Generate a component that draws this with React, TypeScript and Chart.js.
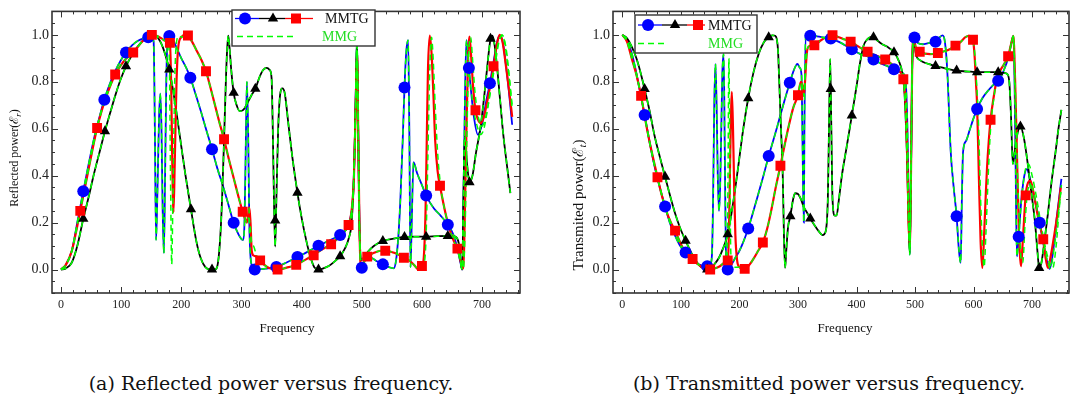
import React, { useEffect, useRef } from "react";
import { Chart, registerables } from "chart.js";

Chart.register(...registerables);

type Pt = [number, number];

const FONT = '"Liberation Serif", "DejaVu Serif", serif';
const FREQ_TICKS = [0, 100, 200, 300, 400, 500, 600, 700];
const POWER_TICKS = [0, 0.2, 0.4, 0.6, 0.8, 1.0];
const LEGEND_MMTG = "MMTG";
const LEGEND_MMG = "MMG";

// ---------- (a) Reflected power ----------
const reflectedBlue: Pt[] = [
  [0, 0], [8, 0.02], [18, 0.08], [27, 0.2], [37, 0.334], [46, 0.45], [55, 0.56], [64, 0.65], [72, 0.724],
  [81, 0.79], [90, 0.845], [99, 0.89], [108, 0.925], [118, 0.955], [128, 0.975], [137, 0.985], [145, 0.99],
  [151, 0.99], [154, 0.97], [156, 0.6], [158, 0.126], [160, 0.3], [163, 0.65], [165, 0.75], [167, 0.6],
  [169, 0.25], [171, 0.07], [173, 0.4], [175, 0.8], [177, 0.97], [180, 0.995], [186, 0.98], [193, 0.94],
  [200, 0.9], [208, 0.86], [215, 0.817], [224, 0.745], [233, 0.67], [242, 0.59], [251, 0.513], [260, 0.43],
  [270, 0.35], [279, 0.27], [287, 0.199], [295, 0.15], [300, 0.13], [303, 0.126], [305, 0.2], [307, 0.5],
  [309, 0.8], [311, 0.6], [313, 0.2], [316, 0.03], [322, 0.0], [340, 0.004], [358, 0.011], [375, 0.03],
  [393, 0.053], [410, 0.076], [428, 0.101], [446, 0.124], [464, 0.147], [474, 0.17], [480, 0.21], [485, 0.3],
  [488, 0.5], [490, 0.75], [492, 0.98], [494, 0.6], [496, 0.2], [499, 0.008], [503, 0.03], [508, 0.05],
  [515, 0.05], [525, 0.035], [535, 0.022], [545, 0.01], [553, 0.005], [557, 0.04], [561, 0.15], [564, 0.29],
  [568, 0.55], [571, 0.776], [574, 0.93], [577, 0.977], [579, 0.6], [581, 0.01], [583, 0.2], [586, 0.458],
  [592, 0.41], [600, 0.36], [607, 0.315], [620, 0.26], [631, 0.23], [643, 0.191], [652, 0.15], [659, 0.09],
  [664, 0.03], [667, 0.0], [669, 0.3], [672, 0.8], [674, 0.977], [678, 0.859], [686, 0.658], [693, 0.575],
  [700, 0.62], [707, 0.72], [713, 0.794], [720, 0.9], [726, 0.98], [730, 0.997], [735, 0.96], [742, 0.82],
  [750, 0.617],
];
const reflectedBlueMMG: Pt[] = [
  [0, 0], [8, 0.02], [18, 0.08], [27, 0.2], [37, 0.334], [46, 0.45], [55, 0.56], [64, 0.65], [72, 0.724],
  [81, 0.79], [90, 0.845], [99, 0.89], [108, 0.925], [118, 0.955], [128, 0.975], [137, 0.985], [145, 0.99],
  [151, 0.99], [154, 0.97], [156, 0.6], [158, 0.126], [160, 0.3], [163, 0.65], [165, 0.75], [167, 0.6],
  [169, 0.25], [171, 0.07], [173, 0.4], [175, 0.8], [177, 0.97], [180, 0.995], [186, 0.98], [193, 0.94],
  [200, 0.9], [208, 0.86], [215, 0.817], [224, 0.745], [233, 0.67], [242, 0.59], [251, 0.513], [260, 0.43],
  [270, 0.35], [279, 0.27], [287, 0.199], [295, 0.15], [300, 0.13], [303, 0.126], [305, 0.2], [307, 0.5],
  [309, 0.8], [311, 0.6], [313, 0.2], [316, 0.03], [322, 0.0], [340, 0.004], [358, 0.011], [375, 0.03],
  [393, 0.053], [410, 0.076], [428, 0.101], [446, 0.124], [464, 0.147], [474, 0.17], [480, 0.21], [485, 0.3],
  [488, 0.5], [490, 0.75], [492, 0.98], [494, 0.6], [496, 0.2], [499, 0.008], [503, 0.03], [508, 0.05],
  [515, 0.05], [525, 0.035], [535, 0.022], [545, 0.01], [553, 0.005], [557, 0.04], [561, 0.15], [564, 0.29],
  [568, 0.55], [571, 0.776], [574, 0.93], [577, 0.977], [579, 0.6], [581, 0.01], [583, 0.2], [586, 0.458],
  [592, 0.41], [600, 0.36], [607, 0.315], [620, 0.26], [631, 0.23], [643, 0.191], [652, 0.15], [659, 0.09],
  [664, 0.03], [667, 0.0], [669, 0.3], [672, 0.8], [674, 0.977], [678, 0.859], [686, 0.68], [693, 0.6],
  [697, 0.575], [703, 0.6], [710, 0.7], [717, 0.82], [724, 0.93], [729, 0.98], [734, 0.997], [740, 0.94],
  [746, 0.8], [750, 0.68],
];
const reflectedBlack: Pt[] = [
  [0, 0], [8, 0.005], [18, 0.03], [27, 0.1], [37, 0.216], [46, 0.31], [55, 0.41], [64, 0.5], [73, 0.589],
  [82, 0.67], [90, 0.74], [99, 0.81], [108, 0.866], [117, 0.91], [126, 0.945], [135, 0.972], [144, 0.99],
  [152, 0.998], [158, 0.995], [163, 0.98], [168, 0.955], [174, 0.91], [180, 0.852], [189, 0.72], [198, 0.56],
  [207, 0.4], [216, 0.257], [225, 0.12], [232, 0.05], [240, 0.01], [248, 0.0], [256, 0.0], [261, 0.03],
  [265, 0.15], [268, 0.32], [271, 0.55], [274, 0.8], [276, 0.93], [278, 0.997], [280, 0.95], [283, 0.85],
  [287, 0.753], [292, 0.7], [297, 0.675], [303, 0.68], [310, 0.71], [317, 0.745], [323, 0.77], [330, 0.82],
  [336, 0.85], [342, 0.859], [347, 0.85], [350, 0.817], [352, 0.6], [354, 0.3], [356, 0.098], [358, 0.3],
  [361, 0.6], [364, 0.74], [368, 0.772], [372, 0.75], [378, 0.62], [385, 0.47], [393, 0.327], [400, 0.22],
  [408, 0.12], [415, 0.05], [421, 0.01], [428, 0.0], [436, 0.005], [445, 0.015], [455, 0.035], [464, 0.057],
  [472, 0.09], [478, 0.13], [483, 0.2], [487, 0.4], [490, 0.75], [492, 0.98], [494, 0.6], [496, 0.2],
  [499, 0.04], [503, 0.05], [510, 0.075], [520, 0.1], [535, 0.122], [553, 0.132], [571, 0.139], [589, 0.14],
  [607, 0.14], [625, 0.142], [643, 0.143], [652, 0.142], [658, 0.135], [662, 0.1], [665, 0.02], [667, 0.0],
  [669, 0.3], [671, 0.57], [675, 0.45], [679, 0.372], [684, 0.4], [690, 0.5], [697, 0.6], [704, 0.75],
  [710, 0.9], [714, 0.983], [717, 0.997], [720, 0.97], [725, 0.86], [730, 0.72], [735, 0.58], [741, 0.45],
  [747, 0.326],
];
const reflectedRed: Pt[] = [
  [0, 0], [8, 0.02], [18, 0.08], [25, 0.16], [32, 0.25], [39, 0.34], [46, 0.43], [53, 0.52], [60, 0.603],
  [68, 0.68], [75, 0.735], [83, 0.79], [90, 0.831], [98, 0.865], [105, 0.89], [113, 0.91], [120, 0.925],
  [128, 0.95], [136, 0.975], [143, 0.99], [151, 1.0], [160, 0.995], [167, 0.985], [173, 0.975], [178, 0.972],
  [181, 0.966], [183, 0.8], [185, 0.45], [187, 0.244], [189, 0.45], [192, 0.8], [195, 0.95], [200, 0.99],
  [206, 1.0], [211, 0.997], [218, 0.97], [226, 0.93], [234, 0.89], [241, 0.845], [248, 0.78], [256, 0.7],
  [263, 0.63], [271, 0.555], [279, 0.47], [287, 0.39], [295, 0.31], [302, 0.246], [306, 0.215], [309, 0.2],
  [311, 0.23], [313, 0.265], [315, 0.2], [317, 0.08], [320, 0.06], [325, 0.055], [331, 0.039], [338, 0.02],
  [345, 0.008], [352, 0.002], [360, 0.0], [368, 0.003], [375, 0.008], [383, 0.013], [391, 0.02], [398, 0.03],
  [405, 0.04], [412, 0.05], [420, 0.061], [427, 0.074], [435, 0.087], [442, 0.097], [449, 0.108], [457, 0.125],
  [465, 0.145], [472, 0.165], [478, 0.19], [483, 0.25], [487, 0.4], [490, 0.7], [492, 0.93], [494, 0.6],
  [496, 0.2], [498, 0.02], [500, 0.0], [505, 0.04], [509, 0.055], [515, 0.065], [524, 0.075], [532, 0.08],
  [539, 0.08], [547, 0.077], [555, 0.07], [563, 0.06], [570, 0.05], [578, 0.04], [585, 0.025], [590, 0.01],
  [594, 0.0], [600, 0.015], [603, 0.05], [606, 0.25], [608, 0.55], [610, 0.85], [613, 0.997], [616, 0.92],
  [619, 0.75], [622, 0.55], [626, 0.42], [630, 0.357], [635, 0.29], [640, 0.23], [645, 0.18], [650, 0.14],
  [655, 0.11], [659, 0.089], [663, 0.05], [667, 0.01], [669, 0.005], [671, 0.2], [674, 0.6], [677, 0.93],
  [679, 0.993], [682, 0.9], [685, 0.78], [689, 0.679], [693, 0.64], [698, 0.624], [703, 0.65], [708, 0.71],
  [714, 0.79], [719, 0.866], [724, 0.95], [729, 1.0], [734, 0.97], [740, 0.86], [745, 0.76], [750, 0.651],
];
const reflectedRedMMG: Pt[] = [
  [0, 0], [8, 0.02], [18, 0.08], [25, 0.16], [32, 0.25], [39, 0.34], [46, 0.43], [53, 0.52], [60, 0.603],
  [68, 0.68], [75, 0.735], [83, 0.79], [90, 0.831], [98, 0.865], [105, 0.89], [113, 0.91], [120, 0.925],
  [128, 0.95], [136, 0.975], [143, 0.99], [151, 1.0], [160, 0.995], [167, 0.985], [173, 0.975], [178, 0.972],
  [180, 0.9], [182, 0.4], [184, 0.022], [186, 0.3], [189, 0.8], [192, 0.97], [196, 0.995], [201, 0.99],
  [206, 1.0], [211, 0.997], [218, 0.97], [226, 0.93], [234, 0.89], [241, 0.845], [248, 0.78], [256, 0.7],
  [263, 0.63], [271, 0.555], [279, 0.47], [287, 0.39], [295, 0.31], [302, 0.246], [306, 0.215], [309, 0.2],
  [311, 0.22], [314, 0.2], [317, 0.11], [320, 0.1], [325, 0.06], [331, 0.039], [338, 0.02],
  [345, 0.008], [352, 0.002], [360, 0.0], [368, 0.003], [375, 0.008], [383, 0.013], [391, 0.02], [398, 0.03],
  [405, 0.04], [412, 0.05], [420, 0.061], [427, 0.074], [435, 0.087], [442, 0.097], [449, 0.108], [457, 0.125],
  [465, 0.145], [472, 0.165], [478, 0.19], [483, 0.25], [487, 0.4], [490, 0.7], [492, 0.93], [494, 0.6],
  [496, 0.2], [498, 0.02], [500, 0.0], [505, 0.04], [509, 0.055], [515, 0.065], [524, 0.075], [532, 0.08],
  [539, 0.08], [547, 0.077], [555, 0.07], [563, 0.06], [570, 0.05], [578, 0.04], [585, 0.025], [590, 0.01],
  [594, 0.0], [600, 0.015], [604, 0.03], [607, 0.15], [610, 0.5], [613, 0.85], [616, 0.99], [619, 0.88],
  [622, 0.7], [626, 0.5], [630, 0.38], [635, 0.29], [640, 0.23], [645, 0.18], [650, 0.14],
  [655, 0.11], [659, 0.089], [663, 0.05], [667, 0.01], [669, 0.005], [672, 0.2], [675, 0.6], [678, 0.93],
  [681, 0.99], [684, 0.9], [688, 0.76], [693, 0.66], [699, 0.61], [704, 0.63], [710, 0.7], [716, 0.79],
  [722, 0.88], [728, 0.97], [733, 1.0], [738, 0.96], [744, 0.84], [750, 0.7],
];
const reflectedBlueMarks: Pt[] = [
  [37, 0.334], [72, 0.724], [108, 0.925], [145, 0.99], [180, 0.995], [215, 0.817], [251, 0.513],
  [287, 0.199], [322, 0.0], [358, 0.011], [393, 0.053], [428, 0.101], [464, 0.147], [500, 0.008],
  [535, 0.022], [571, 0.776], [607, 0.315], [643, 0.191], [678, 0.859], [713, 0.794],
];
const reflectedBlackMarks: Pt[] = [
  [37, 0.216], [73, 0.589], [108, 0.866], [180, 0.852], [216, 0.257], [251, 0.0], [287, 0.753],
  [323, 0.77], [356, 0.209], [393, 0.327], [428, 0.0], [464, 0.057], [535, 0.122], [571, 0.139],
  [607, 0.14], [643, 0.143], [679, 0.372], [714, 0.983],
];
const reflectedRedMarks: Pt[] = [
  [32, 0.25], [60, 0.603], [90, 0.831], [120, 0.925], [151, 1.0], [181, 0.966], [211, 0.997], [241, 0.845],
  [271, 0.555], [302, 0.246], [331, 0.039], [360, 0.0], [391, 0.02], [420, 0.061], [449, 0.108],
  [478, 0.19], [509, 0.055], [539, 0.08], [570, 0.05], [600, 0.015], [630, 0.357], [659, 0.089],
  [689, 0.679], [719, 0.866],
];

// ---------- (b) Transmitted power ----------
const transmittedBlue: Pt[] = [
  [0, 1.0], [8, 0.975], [15, 0.93], [22, 0.86], [30, 0.76], [38, 0.659], [46, 0.55], [55, 0.44], [64, 0.35],
  [73, 0.269], [81, 0.2], [90, 0.145], [99, 0.1], [108, 0.073], [117, 0.045], [126, 0.028], [135, 0.018],
  [145, 0.014], [150, 0.02], [153, 0.06], [155, 0.3], [157, 0.7], [159, 0.876], [161, 0.7], [163, 0.4],
  [165, 0.25], [167, 0.35], [169, 0.6], [171, 0.85], [173, 0.918], [175, 0.5], [177, 0.05], [180, 0.0],
  [186, 0.02], [193, 0.05], [200, 0.08], [207, 0.12], [215, 0.175], [224, 0.25], [232, 0.32], [241, 0.4],
  [250, 0.484], [259, 0.56], [268, 0.64], [277, 0.72], [286, 0.796], [293, 0.85], [299, 0.876], [303, 0.86],
  [306, 0.83], [308, 0.5], [310, 0.2], [311, 0.6], [313, 0.996], [321, 0.996], [330, 0.995], [340, 0.99],
  [356, 0.984], [370, 0.97], [381, 0.955], [392, 0.939], [405, 0.92], [417, 0.91], [429, 0.895], [440, 0.88],
  [452, 0.868], [464, 0.853], [472, 0.845], [480, 0.835], [484, 0.8], [487, 0.6], [489, 0.3], [491, 0.063],
  [493, 0.4], [495, 0.85], [497, 0.996], [499, 0.989], [505, 0.965], [513, 0.96], [523, 0.965], [535, 0.971],
  [542, 0.99], [547, 0.998], [551, 0.97], [555, 0.85], [561, 0.5], [566, 0.35], [571, 0.227], [575, 0.08],
  [578, 0.028], [580, 0.3], [582, 0.5], [587, 0.547], [594, 0.6], [600, 0.645], [606, 0.684], [615, 0.73],
  [624, 0.76], [633, 0.785], [642, 0.804], [651, 0.845], [660, 0.91], [665, 0.97], [668, 0.996], [670, 0.8],
  [672, 0.4], [674, 0.056], [677, 0.14], [681, 0.28], [686, 0.39], [691, 0.428], [697, 0.38], [705, 0.294],
  [713, 0.199], [720, 0.1], [726, 0.03], [730, 0.003], [736, 0.08], [742, 0.22], [750, 0.386],
];
const transmittedBlueMMG: Pt[] = [
  [0, 1.0], [8, 0.975], [15, 0.93], [22, 0.86], [30, 0.76], [38, 0.659], [46, 0.55], [55, 0.44], [64, 0.35],
  [73, 0.269], [81, 0.2], [90, 0.145], [99, 0.1], [108, 0.073], [117, 0.045], [126, 0.028], [135, 0.018],
  [145, 0.014], [150, 0.02], [153, 0.06], [155, 0.3], [157, 0.7], [159, 0.876], [161, 0.7], [163, 0.4],
  [165, 0.25], [167, 0.35], [169, 0.6], [171, 0.85], [173, 0.918], [175, 0.5], [177, 0.05], [180, 0.0],
  [186, 0.02], [193, 0.05], [200, 0.08], [207, 0.12], [215, 0.175], [224, 0.25], [232, 0.32], [241, 0.4],
  [250, 0.484], [259, 0.56], [268, 0.64], [277, 0.72], [286, 0.796], [293, 0.85], [299, 0.876], [303, 0.86],
  [306, 0.83], [308, 0.5], [310, 0.2], [311, 0.6], [313, 0.996], [321, 0.996], [330, 0.995], [340, 0.99],
  [356, 0.984], [370, 0.97], [381, 0.955], [392, 0.939], [405, 0.92], [417, 0.91], [429, 0.895], [440, 0.88],
  [452, 0.868], [464, 0.853], [472, 0.845], [480, 0.835], [484, 0.8], [487, 0.6], [489, 0.3], [491, 0.063],
  [493, 0.4], [495, 0.85], [497, 0.996], [499, 0.989], [505, 0.965], [513, 0.96], [523, 0.965], [535, 0.971],
  [542, 0.99], [547, 0.998], [551, 0.97], [555, 0.85], [561, 0.5], [566, 0.35], [571, 0.227], [575, 0.08],
  [578, 0.028], [580, 0.3], [582, 0.5], [587, 0.547], [594, 0.6], [600, 0.645], [606, 0.684], [615, 0.73],
  [624, 0.76], [633, 0.785], [642, 0.804], [651, 0.845], [660, 0.91], [665, 0.97], [668, 0.996], [670, 0.8],
  [672, 0.4], [674, 0.056], [677, 0.14], [682, 0.3], [688, 0.42], [694, 0.449], [700, 0.4], [708, 0.3],
  [716, 0.18], [724, 0.08], [731, 0.02], [735, 0.005], [741, 0.1], [746, 0.25], [750, 0.36],
];
const transmittedBlack: Pt[] = [
  [0, 1.0], [8, 0.985], [16, 0.95], [24, 0.9], [31, 0.84], [38, 0.769], [47, 0.67], [55, 0.57], [64, 0.48],
  [73, 0.395], [82, 0.31], [90, 0.24], [99, 0.175], [108, 0.123], [117, 0.075], [126, 0.035], [135, 0.01],
  [145, 0.0], [152, 0.008], [158, 0.025], [165, 0.05], [172, 0.09], [180, 0.15], [189, 0.28], [198, 0.44],
  [206, 0.59], [215, 0.73], [224, 0.84], [233, 0.92], [242, 0.97], [250, 0.99], [256, 0.998], [261, 0.996],
  [264, 0.98], [266, 0.93], [268, 0.8], [271, 0.6], [274, 0.4], [276, 0.15], [278, 0.007], [280, 0.08],
  [283, 0.18], [287, 0.227], [291, 0.29], [295, 0.325], [300, 0.322], [305, 0.3], [310, 0.266], [316, 0.24],
  [321, 0.217], [328, 0.19], [335, 0.165], [342, 0.147], [347, 0.16], [351, 0.3], [353, 0.6], [355, 0.897],
  [357, 0.6], [359, 0.3], [363, 0.23], [366, 0.231], [370, 0.3], [375, 0.4], [383, 0.52], [392, 0.656],
  [400, 0.78], [406, 0.88], [412, 0.954], [418, 0.98], [424, 0.99], [429, 0.99], [436, 0.975], [444, 0.96],
  [452, 0.95], [464, 0.926], [472, 0.89], [478, 0.84], [482, 0.75], [486, 0.5], [489, 0.2], [491, 0.07],
  [493, 0.4], [495, 0.85], [497, 0.98], [502, 0.912], [510, 0.89], [518, 0.88], [527, 0.873], [535, 0.867],
  [547, 0.86], [559, 0.853], [571, 0.848], [583, 0.845], [595, 0.843], [606, 0.841], [618, 0.841],
  [630, 0.841], [642, 0.841], [651, 0.838], [657, 0.834], [661, 0.8], [664, 0.65], [667, 0.45], [670, 0.5],
  [675, 0.58], [680, 0.61], [686, 0.56], [692, 0.46], [698, 0.34], [705, 0.2], [709, 0.08], [712, 0.007],
  [716, 0.03], [721, 0.12], [727, 0.238], [733, 0.37], [740, 0.5], [745, 0.6], [750, 0.68],
];
const transmittedRed: Pt[] = [
  [0, 1.0], [8, 0.97], [16, 0.9], [24, 0.83], [32, 0.74], [39, 0.64], [46, 0.55], [53, 0.47], [60, 0.393],
  [68, 0.31], [75, 0.25], [83, 0.2], [90, 0.166], [98, 0.12], [105, 0.085], [113, 0.06], [120, 0.045],
  [128, 0.025], [135, 0.012], [143, 0.004], [150, 0.0], [158, 0.005], [165, 0.012], [172, 0.025],
  [177, 0.035], [180, 0.039], [182, 0.15], [184, 0.45], [186, 0.7], [187, 0.757], [189, 0.6], [191, 0.35],
  [193, 0.15], [196, 0.04], [200, 0.01], [205, 0.004], [209, 0.003], [217, 0.02], [225, 0.05], [232, 0.08],
  [240, 0.115], [248, 0.18], [255, 0.26], [262, 0.35], [270, 0.442], [278, 0.54], [285, 0.62], [292, 0.69],
  [300, 0.743], [305, 0.8], [308, 0.78], [310, 0.74], [312, 0.8], [315, 0.92], [318, 0.95], [328, 0.956],
  [338, 0.975], [348, 0.99], [359, 0.999], [370, 0.99], [380, 0.98], [390, 0.971], [400, 0.955], [410, 0.94],
  [419, 0.928], [430, 0.915], [440, 0.905], [449, 0.895], [460, 0.875], [470, 0.85], [480, 0.811],
  [484, 0.7], [487, 0.45], [489, 0.2], [491, 0.098], [493, 0.4], [495, 0.85], [497, 0.989], [502, 0.94],
  [508, 0.928], [517, 0.92], [526, 0.918], [539, 0.923], [550, 0.93], [560, 0.94], [569, 0.954], [578, 0.97],
  [586, 0.99], [592, 0.996], [596, 0.99], [599, 0.979], [602, 0.9], [604, 0.8], [606, 0.7], [609, 0.4],
  [612, 0.12], [615, 0.007], [618, 0.15], [621, 0.33], [623, 0.435], [626, 0.55], [629, 0.638], [634, 0.73],
  [640, 0.813], [646, 0.85], [652, 0.875], [659, 0.909], [664, 0.96], [668, 0.996], [671, 0.8], [674, 0.5],
  [677, 0.2], [681, 0.014], [684, 0.12], [689, 0.316], [693, 0.37], [697, 0.379], [703, 0.32], [710, 0.224],
  [715, 0.17], [719, 0.129], [723, 0.05], [727, 0.007], [732, 0.06], [738, 0.15], [744, 0.25], [749, 0.35],
];
const transmittedRedMMG: Pt[] = [
  [0, 1.0], [8, 0.97], [16, 0.9], [24, 0.83], [32, 0.74], [39, 0.64], [46, 0.55], [53, 0.47], [60, 0.393],
  [68, 0.31], [75, 0.25], [83, 0.2], [90, 0.166], [98, 0.12], [105, 0.085], [113, 0.06], [120, 0.045],
  [128, 0.025], [135, 0.012], [143, 0.004], [150, 0.0], [158, 0.005], [165, 0.012], [172, 0.025],
  [177, 0.035], [179, 0.05], [180.5, 0.4], [182, 0.9], [183.5, 0.5], [185, 0.1], [187, 0.02], [193, 0.01],
  [200, 0.01], [205, 0.004], [209, 0.003], [217, 0.02], [225, 0.05], [232, 0.08],
  [240, 0.115], [248, 0.18], [255, 0.26], [262, 0.35], [270, 0.442], [278, 0.54], [285, 0.62], [292, 0.69],
  [300, 0.743], [305, 0.8], [308, 0.78], [310, 0.74], [312, 0.8], [315, 0.92], [318, 0.95], [328, 0.956],
  [338, 0.975], [348, 0.99], [359, 0.999], [370, 0.99], [380, 0.98], [390, 0.971], [400, 0.955], [410, 0.94],
  [419, 0.928], [430, 0.915], [440, 0.905], [449, 0.895], [460, 0.875], [470, 0.85], [480, 0.811],
  [484, 0.7], [487, 0.45], [489, 0.2], [491, 0.098], [493, 0.4], [495, 0.85], [497, 0.989], [502, 0.94],
  [508, 0.928], [517, 0.92], [526, 0.918], [539, 0.923], [550, 0.93], [560, 0.94], [569, 0.954], [578, 0.97],
  [586, 0.99], [592, 0.996], [596, 0.99], [599, 0.979], [602, 0.92], [605, 0.8], [608, 0.65], [612, 0.3],
  [615, 0.1], [618, 0.01], [621, 0.15], [625, 0.4], [629, 0.6], [634, 0.72],
  [640, 0.813], [646, 0.85], [652, 0.875], [659, 0.909], [664, 0.96], [668, 0.996], [671, 0.8], [674, 0.5],
  [678, 0.2], [681, 0.05], [684, 0.03], [688, 0.2], [692, 0.33], [698, 0.36], [705, 0.3], [712, 0.2],
  [720, 0.11], [726, 0.04], [731, 0.005], [737, 0.08], [744, 0.22], [749, 0.33],
];
const transmittedBlueMarks: Pt[] = [
  [38, 0.659], [73, 0.269], [108, 0.073], [145, 0.014], [180, 0.0], [215, 0.175], [250, 0.484],
  [286, 0.796], [321, 0.996], [356, 0.984], [392, 0.939], [429, 0.895], [464, 0.853], [499, 0.989],
  [535, 0.971], [571, 0.227], [606, 0.684], [642, 0.804], [677, 0.14], [713, 0.199],
];
const transmittedBlackMarks: Pt[] = [
  [38, 0.769], [73, 0.395], [108, 0.123], [145, 0.0], [180, 0.15], [215, 0.73], [250, 0.99], [287, 0.227],
  [321, 0.217], [356, 0.769], [392, 0.656], [429, 0.99], [464, 0.926], [535, 0.867], [571, 0.848],
  [606, 0.841], [642, 0.841], [680, 0.61], [712, 0.007],
];
const transmittedRedMarks: Pt[] = [
  [32, 0.74], [60, 0.393], [90, 0.166], [120, 0.045], [150, 0.0], [180, 0.039], [209, 0.003], [240, 0.115],
  [270, 0.442], [300, 0.743], [328, 0.956], [359, 0.999], [390, 0.971], [419, 0.928], [449, 0.895],
  [480, 0.811], [508, 0.928], [539, 0.923], [569, 0.954], [599, 0.979], [629, 0.638], [659, 0.909],
  [689, 0.316], [719, 0.129],
];

const BLUE = "#0000ff";
const BLACK = "#000000";
const RED = "#ff0000";
const GREEN = "#00ff00";
const GREEN_TEXT = "#22dd22";
const AXIS = "#333333";

interface LegendGeom {
  box: [number, number, number, number];
  row1: number;
  row2: number;
  blueSeg: [number, number];
  blackSeg: [number, number];
  redSeg: [number, number];
  circleX: number;
  triX: number;
  sqX: number;
  mmtgX: number;
  greenSeg: [number, number];
  mmgX: number;
}

interface Spec {
  left: number;
  width: number;
  height: number;
  axisWidth: number;
  padTop: number;
  padRight: number;
  xMin: number;
  xMax: number;
  blue: Pt[];
  blueMMG: Pt[];
  black: Pt[];
  red: Pt[];
  redMMG: Pt[];
  blueMarks: Pt[];
  blackMarks: Pt[];
  redMarks: Pt[];
  yTitle: string;
  yTitleSub: string;
  yTitleSize: number;
  yTitlePos: [number, number];
  xTitle: string;
  xTitlePos: [number, number];
  legend: LegendGeom;
}

function drawMarker(ctx: CanvasRenderingContext2D, kind: string, x: number, y: number, color: string) {
  ctx.fillStyle = color;
  ctx.beginPath();
  if (kind === "circle") {
    ctx.arc(x, y, 6, 0, Math.PI * 2);
  } else if (kind === "triangle") {
    const r = 6;
    ctx.moveTo(x, y - r);
    ctx.lineTo(x + 0.866 * r, y + 0.5 * r);
    ctx.lineTo(x - 0.866 * r, y + 0.5 * r);
    ctx.closePath();
  } else {
    ctx.rect(x - 5, y - 5, 10, 10);
  }
  ctx.fill();
}

function PowerChart({ spec }: { spec: Spec }) {
  const ref = useRef<HTMLCanvasElement | null>(null);
  useEffect(() => {
    if (!ref.current) return;
    const toXY = (pts: Pt[]) => pts.map(([x, y]) => ({ x, y }));
    const line = (pts: Pt[], color: string, width: number, dash: number[], order: number) => ({
      data: toXY(pts),
      borderColor: color,
      backgroundColor: color,
      borderWidth: width,
      borderDash: dash,
      pointRadius: 0,
      pointHoverRadius: 0,
      fill: false,
      cubicInterpolationMode: "monotone",
      order,
    });
    const marks = (pts: Pt[], color: string, style: string, radius: number, order: number) => ({
      data: toXY(pts),
      showLine: false,
      pointStyle: style,
      pointRadius: radius,
      pointHoverRadius: radius,
      pointBackgroundColor: color,
      pointBorderColor: color,
      pointBorderWidth: 0,
      borderColor: color,
      backgroundColor: color,
      order,
    });
    const datasets = [
      line(spec.blue, BLUE, 1.8, [], 6),
      line(spec.black, BLACK, 1.8, [], 5),
      line(spec.red, RED, 2.2, [], 4),
      line(spec.blueMMG, GREEN, 1.5, [6, 4], 3),
      line(spec.black, GREEN, 1.5, [6, 4], 3),
      line(spec.redMMG, GREEN, 1.5, [6, 4], 3),
      marks(spec.blueMarks, BLUE, "circle", 6, 2),
      marks(spec.blackMarks, BLACK, "triangle", 6, 1),
      marks(spec.redMarks, RED, "rect", 7, 0),
    ];
    const ox = spec.left;
    const decor = {
      id: "decor",
      afterDraw(chart: any) {
        const { ctx, chartArea: a, scales } = chart;
        const xs = scales.x;
        const ys = scales.y;
        ctx.save();
        ctx.strokeStyle = AXIS;
        ctx.lineWidth = 1;
        ctx.beginPath();
        for (let v = 0; v <= spec.xMax; v += 20) {
          const px = Math.round(xs.getPixelForValue(v)) + 0.5;
          const len = v % 100 === 0 ? 6 : 3;
          ctx.moveTo(px, a.bottom);
          ctx.lineTo(px, a.bottom - len);
          ctx.moveTo(px, a.top);
          ctx.lineTo(px, a.top + len);
        }
        for (let i = -2; i <= 22; i++) {
          const v = i * 0.05;
          const py = Math.round(ys.getPixelForValue(v)) + 0.5;
          const len = i % 4 === 0 ? 6 : 3;
          ctx.moveTo(a.left, py);
          ctx.lineTo(a.left + len, py);
          ctx.moveTo(a.right, py);
          ctx.lineTo(a.right - len, py);
        }
        ctx.stroke();
        ctx.lineWidth = 1.6;
        ctx.strokeStyle = AXIS;
        ctx.strokeRect(a.left, a.top, a.right - a.left, a.bottom - a.top);

        const L = spec.legend;
        ctx.fillStyle = "#ffffff";
        ctx.fillRect(L.box[0] - ox, L.box[1], L.box[2], L.box[3]);
        ctx.lineWidth = 1.4;
        ctx.strokeStyle = "#333333";
        ctx.strokeRect(L.box[0] - ox, L.box[1], L.box[2], L.box[3]);
        const seg = (s: [number, number], y: number, color: string, w: number, dash: number[]) => {
          ctx.save();
          ctx.strokeStyle = color;
          ctx.lineWidth = w;
          ctx.setLineDash(dash);
          ctx.beginPath();
          ctx.moveTo(s[0] - ox, y);
          ctx.lineTo(s[1] - ox, y);
          ctx.stroke();
          ctx.restore();
        };
        seg(L.blueSeg, L.row1, BLUE, 1.3, []);
        seg(L.blackSeg, L.row1, BLACK, 1.3, []);
        seg(L.redSeg, L.row1, RED, 1.3, []);
        drawMarker(ctx, "circle", L.circleX - ox, L.row1, BLUE);
        drawMarker(ctx, "triangle", L.triX - ox, L.row1, BLACK);
        drawMarker(ctx, "rect", L.sqX - ox, L.row1, RED);
        seg(L.greenSeg, L.row2, GREEN, 1.5, [6, 4]);
        ctx.font = `14px ${FONT}`;
        ctx.textBaseline = "middle";
        ctx.textAlign = "left";
        ctx.fillStyle = "#111111";
        ctx.fillText(LEGEND_MMTG, L.mmtgX - ox, L.row1 + 1);
        ctx.fillStyle = GREEN_TEXT;
        ctx.fillText(LEGEND_MMG, L.mmgX - ox, L.row2 + 1);

        ctx.fillStyle = "#111111";
        ctx.font = `13px ${FONT}`;
        ctx.textAlign = "center";
        ctx.fillText(spec.xTitle, spec.xTitlePos[0] - ox, spec.xTitlePos[1]);

        const size = spec.yTitleSize;
        const fMain = `${size}px ${FONT}`;
        const fSub = `italic ${Math.round(size * 0.72)}px ${FONT}`;
        ctx.translate(spec.yTitlePos[0] - ox, spec.yTitlePos[1]);
        ctx.rotate(-Math.PI / 2);
        ctx.textAlign = "left";
        ctx.font = fMain;
        const w1 = ctx.measureText(spec.yTitle).width;
        const w3 = ctx.measureText(")").width;
        ctx.font = fSub;
        const w2 = ctx.measureText(spec.yTitleSub).width;
        let x = -(w1 + w2 + w3) / 2;
        ctx.font = fMain;
        ctx.fillText(spec.yTitle, x, 0);
        x += w1;
        ctx.font = fSub;
        ctx.fillText(spec.yTitleSub, x, size * 0.28);
        x += w2;
        ctx.font = fMain;
        ctx.fillText(")", x, 0);
        ctx.restore();
      },
    };
    const chart = new Chart(ref.current, {
      type: "line",
      data: { datasets: datasets as any },
      options: {
        responsive: false,
        animation: false,
        devicePixelRatio: 1,
        events: [],
        layout: { padding: { left: 0, top: spec.padTop, right: spec.padRight, bottom: 0 } },
        plugins: { legend: { display: false }, tooltip: { enabled: false } },
        scales: {
          x: {
            type: "linear",
            min: spec.xMin,
            max: spec.xMax,
            grid: { display: false, drawTicks: false },
            border: { display: false },
            ticks: {
              color: "#222222",
              font: { family: FONT, size: 12 },
              padding: 5,
              autoSkip: false,
              maxRotation: 0,
              includeBounds: false,
            },
            afterBuildTicks: (s: any) => {
              s.ticks = FREQ_TICKS.map((value) => ({ value }));
            },
            afterFit: (s: any) => {
              s.height = spec.height - 293;
            },
          },
          y: {
            type: "linear",
            min: -0.1,
            max: 1.1,
            grid: { display: false, drawTicks: false },
            border: { display: false },
            ticks: {
              color: "#222222",
              font: { family: FONT, size: 14 },
              padding: 3,
              includeBounds: false,
              callback: (v: any) => Number(v).toFixed(1),
            },
            afterBuildTicks: (s: any) => {
              s.ticks = POWER_TICKS.map((value) => ({ value }));
            },
            afterFit: (s: any) => {
              s.width = spec.axisWidth;
            },
          },
        },
      } as any,
      plugins: [decor as any],
    });
    return () => chart.destroy();
  }, [spec]);
  return (
    <canvas
      ref={ref}
      width={spec.width}
      height={spec.height}
      style={{ position: "absolute", left: spec.left, top: 0, width: spec.width, height: spec.height }}
    />
  );
}

const specA: Spec = {
  left: 0,
  width: 530,
  height: 345,
  axisWidth: 52,
  padTop: 3,
  padRight: 10,
  xMin: -15,
  xMax: 763,
  blue: reflectedBlue,
  blueMMG: reflectedBlueMMG,
  black: reflectedBlack,
  red: reflectedRed,
  redMMG: reflectedRedMMG,
  blueMarks: reflectedBlueMarks,
  blackMarks: reflectedBlackMarks,
  redMarks: reflectedRedMarks,
  yTitle: "Reflected power(\u2130",
  yTitleSub: "r",
  yTitleSize: 12,
  yTitlePos: [15, 158],
  xTitle: "Frequency",
  xTitlePos: [287, 329],
  legend: {
    box: [232, 10, 143, 36],
    row1: 18.5,
    row2: 36.5,
    blueSeg: [235, 259],
    blackSeg: [259, 285],
    redSeg: [285, 313],
    circleX: 245,
    triX: 273,
    sqX: 296,
    mmtgX: 325,
    greenSeg: [237, 295],
    mmgX: 322,
  },
};

const specB: Spec = {
  left: 540,
  width: 536,
  height: 345,
  axisWidth: 73,
  padTop: 8,
  padRight: 2,
  xMin: -16,
  xMax: 763,
  blue: transmittedBlue,
  blueMMG: transmittedBlueMMG,
  black: transmittedBlack,
  red: transmittedRed,
  redMMG: transmittedRedMMG,
  blueMarks: transmittedBlueMarks,
  blackMarks: transmittedBlackMarks,
  redMarks: transmittedRedMarks,
  yTitle: "Transmited power(\u2130",
  yTitleSub: "t",
  yTitleSize: 15,
  yTitlePos: [579, 205],
  xTitle: "Frequency",
  xTitlePos: [845, 329],
  legend: {
    box: [635, 15, 122, 38],
    row1: 25,
    row2: 43.5,
    blueSeg: [638, 662],
    blackSeg: [662, 687],
    redSeg: [687, 705],
    circleX: 648,
    triX: 675,
    sqX: 698,
    mmtgX: 708,
    greenSeg: [638, 668],
    mmgX: 708,
  },
};

const captionStyle: React.CSSProperties = {
  position: "absolute",
  top: 370,
  transform: "translateX(-50%)",
  whiteSpace: "nowrap",
  fontFamily: '"DejaVu Serif", serif',
  fontSize: 19,
  lineHeight: "26px",
  color: "#111",
};

export default function App() {
  return (
    <div style={{ position: "fixed", left: 0, top: 0, width: 1076, height: 397, background: "#fff", overflow: "hidden" }}>
      <PowerChart spec={specA} />
      <PowerChart spec={specB} />
      <div style={{ ...captionStyle, left: 271 }}>(a) Reflected power versus frequency.</div>
      <div style={{ ...captionStyle, left: 829 }}>(b) Transmitted power versus frequency.</div>
    </div>
  );
}
